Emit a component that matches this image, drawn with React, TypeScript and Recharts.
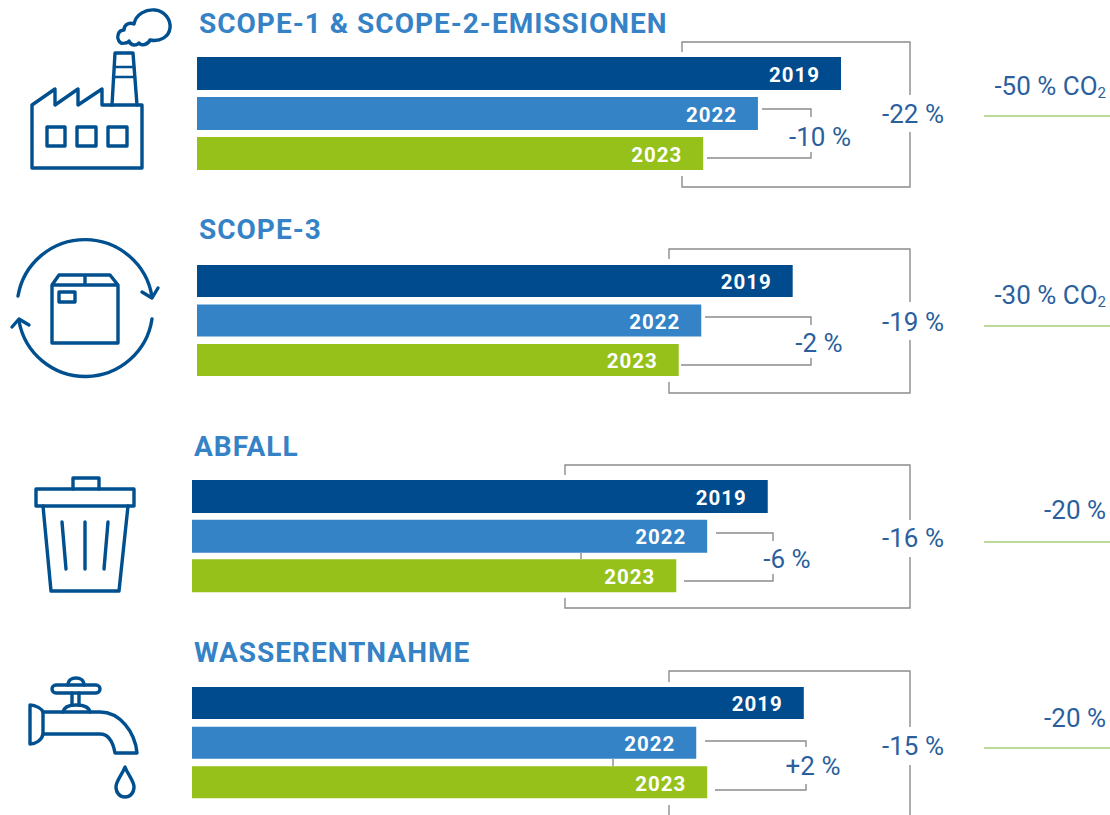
import { BarChart, Bar, XAxis, YAxis, Cell, LabelList } from "recharts";

const years = ["2019", "2022", "2023"];
const barColors = ["#004b8d", "#3383c6", "#95c11a"];

// read off the picture, common index (scope 1 & 2 in 2019 = 100)
const scope12Values = [100, 87.1, 78.6];
const scope3Values = [92.5, 78.3, 74.8];
const wasteValues = [89.4, 80, 75.2];
const waterValues = [95, 78.3, 80];

const BLUE = "#2b5f9e";
const TITLE = "#3583c6";
const ICON = "#00508f";
const GREY = "#8c8c8c";
const GREEN = "#a3cf7a";

const AXIS_MAX = 140;
const PLOT_W = 901.6;

const toRows = (values: number[]) => years.map((year, i) => ({ year, value: values[i] }));

function Panel({ values, left, top, height, barSize }: { values: number[]; left: number; top: number; height: number; barSize: number }) {
  return (
    <div style={{ position: "absolute", left, top }}>
      <BarChart
        layout="vertical"
        width={PLOT_W}
        height={height}
        data={toRows(values)}
        margin={{ top: 0, right: 0, bottom: 0, left: 0 }}
      >
        <XAxis type="number" domain={[0, AXIS_MAX]} hide />
        <YAxis type="category" dataKey="year" hide />
        <Bar dataKey="value" barSize={barSize} isAnimationActive={false}>
          {years.map((y, i) => (
            <Cell key={y} fill={barColors[i]} />
          ))}
          <LabelList
            dataKey="year"
            position="insideRight"
            offset={21}
            fill="#fff"
            dy={1}
            style={{ fontFamily: "Roboto", fontWeight: 700, fontSize: 20.5, letterSpacing: 1 }}
          />
        </Bar>
      </BarChart>
    </div>
  );
}

function Title({ x, y, children }: { x: number; y: number; children: string }) {
  return (
    <text x={x} y={y} fill={TITLE} fontFamily="Roboto" fontWeight={700} fontSize={28} letterSpacing={1}>
      {children}
    </text>
  );
}

function Pct({ x, y, children }: { x: number; y: number; children: string }) {
  return (
    <text x={x} y={y} fill={BLUE} fontFamily="Roboto" fontSize={26} textAnchor="middle" dominantBaseline="central">
      {children}
    </text>
  );
}

function Goal({ y, lineY, label, co2 }: { y: number; lineY: number; label: string; co2?: boolean }) {
  return (
    <g>
      <text x={1106} y={y} fill={BLUE} fontFamily="Roboto" fontSize={26} textAnchor="end" dominantBaseline="central">
        {label}
        {co2 ? " CO" : ""}
        {co2 ? (
          <tspan fontSize={15} dy={7}>
            2
          </tspan>
        ) : null}
      </text>
      <line x1={984} x2={1110} y1={lineY} y2={lineY} stroke={GREEN} strokeWidth={1.6} />
    </g>
  );
}

function Brackets({ d }: { d: string }) {
  return <path d={d} fill="none" stroke={GREY} strokeWidth={1.4} />;
}

function FactoryIcon() {
  return (
    <g fill="none" stroke={ICON} strokeWidth={3.4} strokeLinejoin="round" strokeLinecap="round">
      <path d="M32 105 L55 89 V105 L78 89 V105 L102 89 V105 H142 V168 H32 Z" />
      <path d="M112 105 L115 53 H133 L137 105" />
      <path d="M114 67 H134 M113 77 H135" strokeWidth={2.5} />
      <rect x={47} y={127} width={18} height={19} />
      <rect x={77} y={127} width={19} height={19} />
      <rect x={108} y={127} width={19} height={19} />
      <path d="M125 43 C119 45 117 38 118 35 C119 31 122 30 124 30 C124 24 130 22 134 24 C136 14 146 9 155 10 C165 11 171 20 170 28 C169 37 160 42 150 40 C148 45 141 46 139 43 C136 46 131 46 129 41 C128 43 127 43 125 43 Z" />
    </g>
  );
}

function BoxIcon() {
  return (
    <g fill="none" stroke={ICON} strokeWidth={3.4} strokeLinejoin="round" strokeLinecap="round">
      <path d="M52 285 H118 V343 H52 Z M52 285 L59 275 H110 L118 285 M85 275 V285" />
      <rect x={59} y={292} width={16} height={10} />
      <path d="M18 296 A67.9 67.9 0 0 1 152 297" />
      <path d="M142 292 L152 298 L158 288" />
      <path d="M152 319 A67.4 67.4 0 0 1 19 321" />
      <path d="M12 327 L19 319 L29 325" />
    </g>
  );
}

function TrashIcon() {
  return (
    <g fill="none" stroke={ICON} strokeWidth={3.4} strokeLinejoin="round" strokeLinecap="round">
      <rect x={36} y={489} width={98} height={17} />
      <path d="M73 489 V478 H99 V489" />
      <path d="M43 506 L51 591 H119 L128 506" />
      <path d="M62 522 L66 569 M85 522 V569 M108 522 L104 569" />
    </g>
  );
}

function TapIcon() {
  return (
    <g fill="none" stroke={ICON} strokeWidth={3.4} strokeLinejoin="round" strokeLinecap="round">
      <path d="M30 705 C36 705 42 709 43 712 V734 C42 740 36 744 30 744 Z" />
      <path d="M43 712 H100 C120 712 135 732 137 753 H115 C113 742 108 734 100 734 H43" />
      <path d="M63 712 C64 707 70 705 76 705 C83 705 89 707 90 712" />
      <path d="M72 693 V705 M79 693 V705" />
      <rect x={52} y={685} width={48} height={8} rx={4} />
      <path d="M68 685 C68 680 72 678 76 678 C80 678 84 680 84 685" />
      <path d="M125 767 C122 775 116 781 116 787 C116 793 120 797 125 797 C130 797 134 793 134 787 C134 781 128 775 125 767 Z" />
    </g>
  );
}

export default function App() {
  return (
    <div style={{ position: "absolute", left: 0, top: 0, width: 1110, height: 815, overflow: "hidden", background: "#fff" }}>
      <Panel values={scope12Values} left={197} top={52.5} height={120} barSize={33} />
      <Panel values={scope3Values} left={197} top={260.5} height={118.5} barSize={32} />
      <Panel values={wasteValues} left={192} top={477} height={119} barSize={33} />
      <Panel values={waterValues} left={192} top={682.5} height={119} barSize={32} />

      <svg width={1110} height={815} style={{ position: "absolute", left: 0, top: 0, pointerEvents: "none" }}>
        <FactoryIcon />
        <BoxIcon />
        <TrashIcon />
        <TapIcon />

        <Title x={199} y={33}>SCOPE-1 & SCOPE-2-EMISSIONEN</Title>
        <Title x={199} y={239}>SCOPE-3</Title>
        <Title x={194} y={456}>ABFALL</Title>
        <Title x={194} y={662}>WASSERENTNAHME</Title>

        <Brackets d="M682 52 V42 H910 V95 M910 132 V187 H682 V176 M762 109 H811 V117 M707 158 H811 V152" />
        <Brackets d="M669 259 V249 H910 V302 M910 340 V393 H669 V382 M705 317 H811 V325 M681 365 H811 V358" />
        <Brackets d="M565 475 V465 H910 V520 M910 557 V608 H565 V598 M716 533 H773 V541 M684 581 H773 V574 M581 553 V559" />
        <Brackets d="M669 682 V671 H910 V727 M910 765 V815 M669 805 V815 M705 741 H806 V747 M715 790 H806 V784 M613 759 V766" />

        <Pct x={913} y={114}>-22 %</Pct>
        <Pct x={820} y={137}>-10 %</Pct>
        <Pct x={913} y={322}>-19 %</Pct>
        <Pct x={819} y={343}>-2 %</Pct>
        <Pct x={913} y={538}>-16 %</Pct>
        <Pct x={787} y={559}>-6 %</Pct>
        <Pct x={913} y={746}>-15 %</Pct>
        <Pct x={813} y={766}>+2 %</Pct>

        <Goal y={86} lineY={116} label="-50 %" co2 />
        <Goal y={295} lineY={326} label="-30 %" co2 />
        <Goal y={510} lineY={542} label="-20 %" />
        <Goal y={718} lineY={748} label="-20 %" />
      </svg>
    </div>
  );
}
